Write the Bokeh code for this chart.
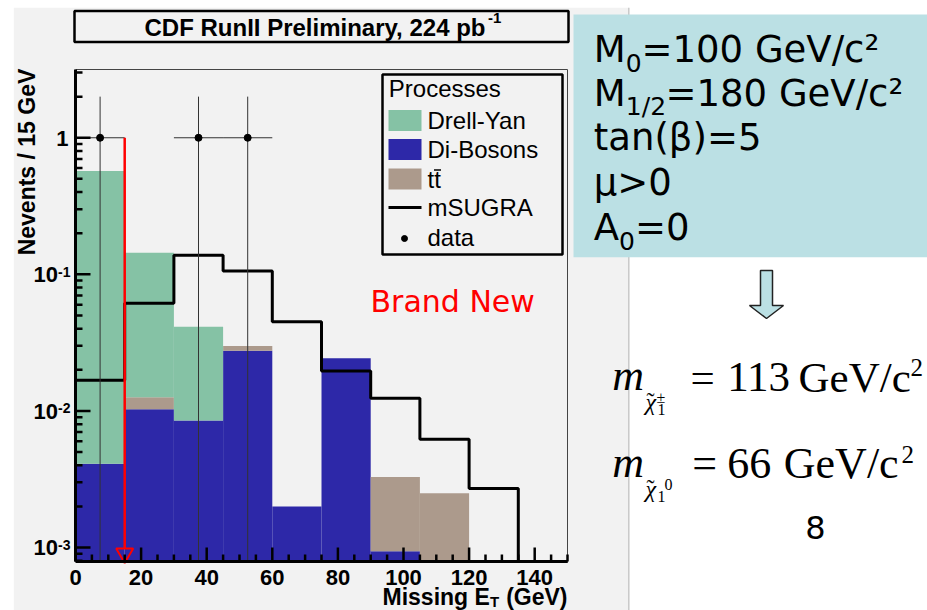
import math
from bokeh.plotting import figure
from bokeh.models import Range1d
from bokeh.core.properties import value
from bokeh.embed import file_html
from bokeh.resources import INLINE

# ---------------- data ----------------
bin_edges = [0, 15, 30, 45, 60, 75, 90, 105, 120, 135, 150]
drell_yan = [0.566, 0.131, 0.0328, 0, 0, 0, 0, 0, 0, 0]
di_bosons = [0.0041, 0.0103, 0.0085, 0.0276, 0.0020, 0.0243, 0.00094, 0, 0, 0]
ttbar     = [0, 0.0023, 0, 0.0023, 0, 0, 0.00234, 0.0025, 0, 0]
msugra    = [0.0168, 0.0613, 0.138, 0.106, 0.045, 0.0196, 0.0124, 0.0062, 0.0027, 0]
data_x    = [7.5, 37.5, 52.5]
data_y    = [1.0, 1.0, 1.0]
data_xerr = [7.5, 7.5, 7.5]
data_yup  = [2.0, 2.0, 2.0]
cut_x, cut_top = 15, 1.0

xtick_major = [0, 20, 40, 60, 80, 100, 120, 140]
xtick_labels = ["0", "20", "40", "60", "80", "100", "120", "140"]
ytick_major = [1e-3, 1e-2, 1e-1, 1]
ytick_base = ["10", "10", "10", "1"]
ytick_exp = ["-3", "-2", "-1", ""]

XMIN, XMAX = 0.0, 150.0
YMIN, YMAX = 7.9e-4, 3.16

C_DY, C_DB, C_TT = "#85c2a5", "#2d28a8", "#ac9a8c"
PANEL = "#f2f2f2"
SLIDE_BLUE = "#bbe0e4"

# ---------------- geometry (canvas pixels) ----------------
FL, FR, FT, FB = 75.0, 567.0, 69.0, 561.0
LMIN, LMAX = math.log10(YMIN), math.log10(YMAX)
W, H = 927, 610


def tx(px):
    return XMIN + (px - FL) * (XMAX - XMIN) / (FR - FL)


def ty(py):
    return 10 ** (LMAX - (py - FT) * (LMAX - LMIN) / (FB - FT))


def px_of_y(v):
    return FT + (LMAX - math.log10(v)) * (FB - FT) / (LMAX - LMIN)


def px_of_x(v):
    return FL + (v - XMIN) * (FR - FL) / (XMAX - XMIN)


p = figure(width=W, height=H, output_backend="svg", toolbar_location=None,
           x_range=Range1d(tx(0), tx(W)), y_range=Range1d(ty(H), ty(0)),
           y_axis_type="log", x_axis_location=None, y_axis_location=None,
           min_border=0)
p.grid.visible = False
p.outline_line_color = None
p.background_fill_color = "white"
p.border_fill_color = "white"


def box(l, r, t, b, fill=None, line=None, lw=1):
    p.quad(left=[tx(l)], right=[tx(r)], top=[ty(t)], bottom=[ty(b)],
           fill_color=fill if fill else None, fill_alpha=1 if fill else 0,
           line_color=line, line_width=lw)


def seg(x0, y0, x1, y1, color="black", lw=1):
    p.segment(x0=[tx(x0)], y0=[ty(y0)], x1=[tx(x1)], y1=[ty(y1)], line_color=color, line_width=lw)


def txt(px, py, s, size, font="Liberation Sans", style="normal", align="left",
        color="black", angle=0.0, centered=False):
    # py is the baseline unless centered=True
    yc = py if centered else py - 0.345 * size
    p.text(x=[tx(px)], y=[ty(yc)], text=[s], text_font=value(font),
           text_font_size=value(f"{size}px"), text_font_style=style,
           text_align=align, text_baseline="middle", text_color=color, angle=angle)


# ---------------- grey panel ----------------
box(13.3, 628.3, 7.3, H + 2, fill=PANEL)
seg(628.3, 7.3, 628.3, H + 2, color="#c8c8c8", lw=1.5)

# ---------------- stacked histograms ----------------
lefts, rights = bin_edges[:-1], bin_edges[1:]
cum = [0.0] * len(lefts)
for vals, col in [(di_bosons, C_DB), (ttbar, C_TT), (drell_yan, C_DY)]:
    L, R, B, T = [], [], [], []
    for i, v in enumerate(vals):
        if v <= 0:
            continue
        bot = max(cum[i], YMIN)
        top = cum[i] + v
        if top > YMIN:
            L.append(lefts[i]); R.append(rights[i]); B.append(bot); T.append(top)
        cum[i] += v
    p.quad(left=L, right=R, bottom=B, top=T, fill_color=col, line_color=None)

# mSUGRA step outline
sx, sy = [], []
for i, v in enumerate(msugra):
    vv = max(v, YMIN)
    sx += [lefts[i], rights[i]]
    sy += [vv, vv]
p.line(sx, sy, line_color="black", line_width=3)

# data with error bars
p.segment(x0=data_x, y0=[YMIN] * len(data_x), x1=data_x, y1=data_yup,
          line_color="#333333", line_width=1)
p.segment(x0=[x - e for x, e in zip(data_x, data_xerr)], y0=data_y,
          x1=[x + e for x, e in zip(data_x, data_xerr)], y1=data_y,
          line_color="#333333", line_width=1)
p.scatter(data_x, data_y, size=7, color="black")

# red cut arrow
cx = px_of_x(cut_x)
p.segment(x0=[cut_x], y0=[cut_top], x1=[cut_x], y1=[ty(548)], line_color="#ff0000", line_width=2.5)
p.patch(x=[tx(cx - 8.5), tx(cx + 8.5), tx(cx)], y=[ty(548), ty(548), ty(562.5)],
        fill_alpha=0, line_color="#ff0000", line_width=2)

# ---------------- frame and axes ----------------
seg(FL, FT, FR, FT, color="#444444", lw=1)
seg(FR, FT, FR, FB, color="#444444", lw=1)
p.segment(x0=[XMIN], y0=[YMIN], x1=[XMIN], y1=[YMAX], line_color="black", line_width=3)
p.segment(x0=[XMIN], y0=[YMIN], x1=[XMAX], y1=[YMIN], line_color="black", line_width=3)

# y ticks
ymaj_x1 = tx(FL + 15)
ymin_x1 = tx(FL + 7)
p.segment(x0=[XMIN] * 4, y0=ytick_major, x1=[ymaj_x1] * 4, y1=ytick_major, line_color="black", line_width=2.5)
yminor = [k * 10 ** d for d in range(-4, 1) for k in range(2, 10) if YMIN < k * 10 ** d < YMAX]
p.segment(x0=[XMIN] * len(yminor), y0=yminor, x1=[ymin_x1] * len(yminor), y1=yminor,
          line_color="black", line_width=2.5)
# x ticks
xminor = [v for v in range(5, 151, 5) if v not in xtick_major]
p.segment(x0=xtick_major, y0=[YMIN] * len(xtick_major), x1=xtick_major,
          y1=[ty(FB - 14)] * len(xtick_major), line_color="black", line_width=2.5)
p.segment(x0=xminor, y0=[YMIN] * len(xminor), x1=xminor,
          y1=[ty(FB - 7)] * len(xminor), line_color="black", line_width=2.5)

# tick labels
for v, lab in zip(xtick_major, xtick_labels):
    txt(px_of_x(v), 585, lab, 22, style="bold", align="center")
for v, b, e in zip(ytick_major, ytick_base, ytick_exp):
    py = px_of_y(v)
    if e:
        txt(57.5, py + 8, b, 22, style="bold", align="right")
        txt(57.5, py + 2, e, 14, style="bold", align="left")
    else:
        txt(68, py + 8, b, 22, style="bold", align="right")

# axis titles
txt(26.5, 161.5, "Nevents / 15 GeV", 23, style="bold", align="center",
    angle=math.pi / 2, centered=True)
txt(382, 604, "Missing E", 23, style="bold")
txt(489.4, 606.5, "T", 15, style="bold")
txt(567, 604, "(GeV)", 23, style="bold", align="right")

# ---------------- title box ----------------
box(74, 568, 10.5, 41.5, fill=PANEL, line="black", lw=2.5)
txt(144, 35.5, "CDF RunII Preliminary, 224 pb", 24, style="bold")
txt(487.5, 23, "-1", 15, style="bold")

# ---------------- legend ----------------
box(382, 562, 74, 254, fill=PANEL, line="black", lw=2.5)
txt(388.3, 96.7, "Processes", 24)
for (col, lab, cy) in [(C_DY, "Drell-Yan", 120), (C_DB, "Di-Bosons", 149), (C_TT, "tt", 178.5)]:
    box(388, 421, cy - 10.5, cy + 10.5, fill=col)
    txt(427, cy + 8.6, lab, 24)
seg(433.5, 169.5, 440.5, 169.5, color="black", lw=1.5)
seg(388, 207, 421, 207, color="black", lw=3)
txt(427, 215.6, "mSUGRA", 24)
p.scatter([tx(404)], [ty(238)], size=6, color="black")
txt(427, 245.3, "data", 24)

# Brand New
txt(370, 311.5, "Brand New", 30, font="DejaVu Sans", color="#ff0000")

# ---------------- slide content ----------------
box(573, W + 2, 14, 256.7, fill=SLIDE_BLUE)
S = 37
SS = 25
F = "DejaVu Sans"
txt(593.3, 61.7, "M", S, font=F)
txt(625.3, 70.7, "0", SS, font=F)
txt(641.0, 61.7, "=100 GeV/c²", S, font=F)
txt(593.3, 106, "M", S, font=F)
txt(625.3, 115, "1/2", SS, font=F)
txt(665.0, 106, "=180 GeV/c²", S, font=F)
txt(593.3, 150, "tan(β)=5", S, font=F)
txt(593.3, 195, "μ>0", S, font=F)
txt(593.3, 240, "A", S, font=F)
txt(618.6, 249, "0", SS, font=F)
txt(634.5, 240, "=0", S, font=F)

# down arrow
ax = 766
p.patch(x=[tx(ax - 6), tx(ax + 6), tx(ax + 6), tx(ax + 17), tx(ax), tx(ax - 17), tx(ax - 6)],
        y=[ty(270), ty(270), ty(305), ty(305), ty(318), ty(305), ty(305)],
        fill_color=SLIDE_BLUE, line_color="#222222", line_width=1.5)

# formulas
FS = "Liberation Serif"
for base_y, sup, sup_x, rhs, rhs_xs, rhs_size, c2x in [
        (390, "±", 656, ["=", "113", "GeV/c"], [690, 726.7, 798], 43, 910),
        (476.7, "0", 664, ["=", "66", "GeV/c"], [691.7, 726.7, 783.3], 44, 901)]:
    txt(611.7, base_y, "m", 44, font=FS, style="italic")
    txt(645, base_y + 20, "χ", 24, font=FS, style="italic")
    txt(646, base_y + 19, "˜", 24, font=FS)
    txt(657, base_y + 25, "1", 16, font=FS)
    txt(sup_x, base_y + 13, sup, 16, font=FS)
    for s, xx in zip(rhs, rhs_xs):
        txt(xx, base_y + 1.5, s, rhs_size, font=FS)
    txt(c2x, base_y - 14, "2", 25, font=FS)

txt(815, 538, "8", 32, font=F, align="center")

open("out.html", "w").write(file_html(p, INLINE))
